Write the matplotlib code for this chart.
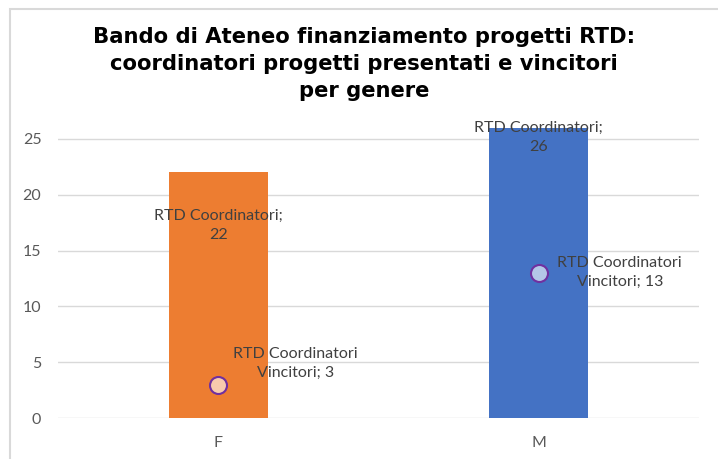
"""Bando di Ateneo RTD: coordinatori presentati e vincitori per genere."""

import matplotlib
matplotlib.use('Agg')
import matplotlib.pyplot as plt
from matplotlib.patches import Rectangle
import numpy as np

# ── Data ──
genders = ['F', 'M']
coordinatori = [22, 26]
vincitori = [3, 13]
bar_colors = ['#ED7D31', '#4472C4']
marker_fills = ['#F8CBAD', '#B4C7E7']

# label offsets (pixels) -- Excel-like placement
bar_label_offsets = [(0, -53), (0, -10)]
dot_label_offsets = [(77, 21), (81, 0)]

W, H = 718, 459
fig = plt.figure(figsize=(W / 100, H / 100), dpi=100)
ax = fig.add_axes([58 / W, (H - 418) / H, (699 - 58) / W, (418 - 127.8) / H])

x = np.arange(len(genders))
ax.bar(x, coordinatori, width=0.31, color=bar_colors, zorder=2)
for i in range(len(genders)):
    ax.scatter(x[i], vincitori[i], s=150, color=marker_fills[i], edgecolors='#7030A0',
               linewidths=1.5, zorder=4)

lab_font = 'Lato'
for i in range(len(genders)):
    ax.annotate(f'RTD Coordinatori;\n{coordinatori[i]}', xy=(x[i], coordinatori[i]),
                xytext=bar_label_offsets[i], textcoords='offset pixels',
                ha='center', va='center', fontsize=11.5, color='#404040',
                family=lab_font, linespacing=1.44, zorder=5)
    ax.annotate(f'RTD Coordinatori\nVincitori; {vincitori[i]}', xy=(x[i], vincitori[i]),
                xytext=dot_label_offsets[i], textcoords='offset pixels',
                ha='center', va='center', fontsize=11.5, color='#404040',
                family=lab_font, linespacing=1.44, zorder=5)

ax.set_xlim(-0.5, 1.5)
ax.set_ylim(0, 26)
ax.set_yticks([0, 5, 10, 15, 20, 25])
ax.set_xticks(x)
ax.set_xticklabels(genders)
ax.tick_params(axis='both', length=0, labelsize=11.5, labelcolor='#595959')
ax.tick_params(axis='y', pad=12)
ax.tick_params(axis='x', pad=13)
for lab in ax.get_xticklabels() + ax.get_yticklabels():
    lab.set_family(lab_font)
for s in ax.spines.values():
    s.set_visible(False)
ax.grid(True, axis='y', color='#D9D9D9', linewidth=1, zorder=0)
ax.set_axisbelow(True)

fig.text(364 / W, 1 - 64 / H,
         'Bando di Ateneo finanziamento progetti RTD:\n'
         'coordinatori progetti presentati e vincitori\nper genere',
         ha='center', va='center', fontsize=15.2, fontweight='bold',
         family='DejaVu Sans', linespacing=1.42)

# chart frame (only top/left edges visible in the crop)
fig.add_artist(Rectangle((10 / W, -0.2), 1.5, 1.2 - 9 / H, transform=fig.transFigure,
                         fill=False, edgecolor='#D9D9D9', linewidth=1.5))

fig.savefig('out.png', dpi=100)
